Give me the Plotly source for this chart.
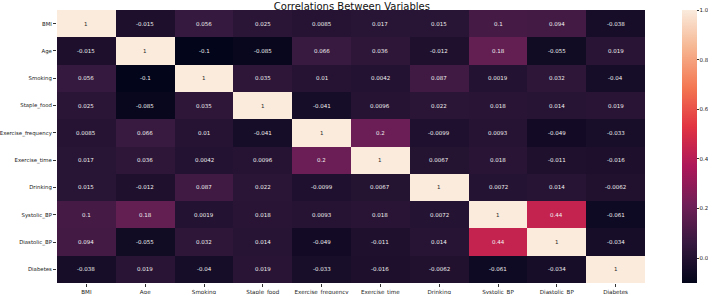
import plotly.graph_objects as go

variables = ["BMI", "Age", "Smoking", "Staple_food", "Exercise_frequency",
             "Exercise_time", "Drinking", "Systolic_BP", "Diastolic_BP", "Diabetes"]

row_bmi = [1, -0.015, 0.056, 0.025, 0.0085, 0.017, 0.015, 0.1, 0.094, -0.038]
row_age = [-0.015, 1, -0.1, -0.085, 0.066, 0.036, -0.012, 0.18, -0.055, 0.019]
row_smoking = [0.056, -0.1, 1, 0.035, 0.01, 0.0042, 0.087, 0.0019, 0.032, -0.04]
row_staple = [0.025, -0.085, 0.035, 1, -0.041, 0.0096, 0.022, 0.018, 0.014, 0.019]
row_exfreq = [0.0085, 0.066, 0.01, -0.041, 1, 0.2, -0.0099, 0.0093, -0.049, -0.033]
row_extime = [0.017, 0.036, 0.0042, 0.0096, 0.2, 1, 0.0067, 0.018, -0.011, -0.016]
row_drinking = [0.015, -0.012, 0.087, 0.022, -0.0099, 0.0067, 1, 0.0072, 0.014, -0.0062]
row_sbp = [0.1, 0.18, 0.0019, 0.018, 0.0093, 0.018, 0.0072, 1, 0.44, -0.061]
row_dbp = [0.094, -0.055, 0.032, 0.014, -0.049, -0.011, 0.014, 0.44, 1, -0.034]
row_diabetes = [-0.038, 0.019, -0.04, 0.019, -0.033, -0.016, -0.0062, -0.061, -0.034, 1]

z = [row_bmi, row_age, row_smoking, row_staple, row_exfreq,
     row_extime, row_drinking, row_sbp, row_dbp, row_diabetes]

colorbar_ticks = [0.0, 0.2, 0.4, 0.6, 0.8, 1.0]
colorbar_labels = ["0.0", "0.2", "0.4", "0.6", "0.8", "1.0"]

rocket = [
    [0.0, "#03051a"],
    [1 / 7, "#35193e"],
    [2 / 7, "#701f57"],
    [3 / 7, "#ad1759"],
    [4 / 7, "#e13342"],
    [5 / 7, "#f37651"],
    [6 / 7, "#f6b48f"],
    [1.0, "#faebdd"],
]

zmin = min(min(r) for r in z)
zmax = 1.0

fig = go.Figure(go.Heatmap(
    z=z, x=variables, y=variables,
    colorscale=rocket, zmin=zmin, zmax=zmax,
    xgap=0, ygap=0,
    colorbar=dict(
        thickness=15, thicknessmode="pixels", len=1, lenmode="fraction",
        x=1.063, xanchor="left", xpad=0, y=0.5, yanchor="middle", ypad=0,
        outlinewidth=0, tickmode="array", tickvals=colorbar_ticks,
        ticktext=colorbar_labels,
        ticks="outside", ticklen=2, tickcolor="#333",
        tickfont=dict(size=5.5, color="#222", family="DejaVu Sans"),
    ),
    hoverinfo="skip",
))

annotations = []
for i, yv in enumerate(variables):
    for j, xv in enumerate(variables):
        v = z[i][j]
        annotations.append(dict(
            x=xv, y=yv, xref="x", yref="y", text=f"{v:g}", showarrow=False,
            font=dict(size=5.5, family="DejaVu Sans",
                      color="#262626" if v > 0.6 else "#f0f0f0"),
        ))

fig.update_layout(
    width=708, height=294,
    margin=dict(l=57, r=63, t=10, b=11, pad=0, autoexpand=False),
    paper_bgcolor="white", plot_bgcolor="white",
    title=dict(text="Correlations Between Variables", x=0.497, xanchor="center",
               y=1, yanchor="bottom", yref="paper", pad=dict(b=0, t=0),
               font=dict(size=10, family="DejaVu Sans", color="#111")),
    annotations=annotations,
    xaxis=dict(showgrid=False, zeroline=False, ticks="outside", ticklen=3,
               tickcolor="#333", tickfont=dict(size=5.6, family="DejaVu Sans", color="#222")),
    yaxis=dict(showgrid=False, zeroline=False, autorange="reversed", ticks="outside",
               ticklen=3, tickcolor="#333",
               tickfont=dict(size=5.4, family="DejaVu Sans", color="#222")),
)

fig.write_html("out.html", config={"displayModeBar": False},
               post_script="document.body.style.margin='0';document.body.style.padding='0';")
